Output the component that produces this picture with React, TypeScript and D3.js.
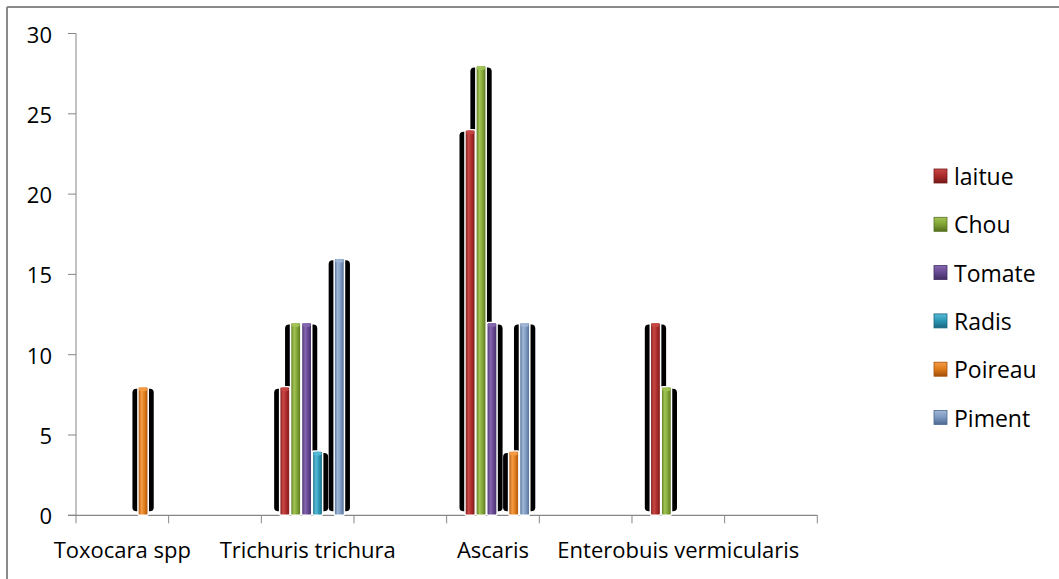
import React from "react";
import * as d3 from "d3";

// Parasite categories (every other slot is an unlabeled spacer on the axis)
const categories = [
  "Toxocara spp",
  "",
  "Trichuris trichura",
  "",
  "Ascaris",
  "",
  "Enterobuis vermicularis",
  "",
];

const seriesNames = ["laitue", "Chou", "Tomate", "Radis", "Poireau", "Piment"];

const laitue = [0, 0, 8, 0, 24, 0, 12, 0];
const chou = [0, 0, 12, 0, 28, 0, 8, 0];
const tomate = [0, 0, 12, 0, 12, 0, 0, 0];
const radis = [0, 0, 4, 0, 0, 0, 0, 0];
const poireau = [8, 0, 0, 0, 4, 0, 0, 0];
const piment = [0, 0, 16, 0, 12, 0, 0, 0];

const seriesValues = [laitue, chou, tomate, radis, poireau, piment];

const yTicks = [0, 5, 10, 15, 20, 25, 30];

// dark edge, highlight, mid tone
const palette = [
  ["#741a19", "#c94845", "#a92b29"],
  ["#55701d", "#a2c555", "#80a336"],
  ["#412d64", "#8667b0", "#654890"],
  ["#186680", "#58bcd8", "#2a95b3"],
  ["#a2500c", "#f59c46", "#de7a1a"],
  ["#4c6890", "#a0b8d8", "#7b98bf"],
];

const W = 1059;
const H = 579;
const plotLeft = 76;
const plotRight = 817.3;
const plotTop = 33.5;
const plotBottom = 515.3;
const FONT = "'Open Sans', sans-serif";
const axisColor = "#868686";

export default function App() {
  const x = d3.scaleBand<string>().domain(categories.map((_, i) => String(i))).range([plotLeft, plotRight]).padding(0);
  const y = d3.scaleLinear().domain([0, 30]).range([plotBottom, plotTop]);
  const catW = x.bandwidth();
  const groupW = 65.4;
  const inner = d3.scaleBand<string>().domain(seriesNames).range([0, groupW]).padding(0);
  const barW = inner.bandwidth() - 0.6;
  const groupOffset = (catW - groupW) / 2 + 4.7;

  type Bar = { s: number; c: number; x: number; top: number; v: number };
  const bars: Bar[] = [];
  seriesValues.forEach((vals, s) => {
    vals.forEach((v, c) => {
      if (v > 0) {
        const bx = (x(String(c)) as number) + groupOffset + (inner(seriesNames[s]) as number);
        bars.push({ s, c, x: bx, top: y(v), v });
      }
    });
  });

  const boundaries = d3.range(categories.length + 1).map((i) => plotLeft + i * catW);

  return (
    <svg
      width={W}
      height={H}
      style={{ position: "absolute", left: 0, top: 0, background: "#fff" }}
      fontFamily={FONT}
    >
      <defs>
        {palette.map((p, i) => (
          <linearGradient key={i} id={`cyl${i}`} x1="0" x2="1" y1="0" y2="0">
            <stop offset="0" stopColor={p[0]} />
            <stop offset="0.35" stopColor={p[1]} />
            <stop offset="0.65" stopColor={p[2]} />
            <stop offset="1" stopColor={p[0]} />
          </linearGradient>
        ))}
        {palette.map((p, i) => (
          <linearGradient key={`l${i}`} id={`leg${i}`} x1="0" x2="0" y1="0" y2="1">
            <stop offset="0" stopColor={p[1]} />
            <stop offset="0.5" stopColor={p[2]} />
            <stop offset="1" stopColor={p[0]} />
          </linearGradient>
        ))}
      </defs>

      <rect x={0} y={0} width={W} height={H} fill="#fff" />
      {/* chart frame */}
      <line x1={7} y1={7} x2={W} y2={7} stroke="#8a8a8a" strokeWidth={2} />
      <line x1={7} y1={7} x2={7} y2={H} stroke="#8a8a8a" strokeWidth={2} />

      {/* y axis */}
      <line x1={plotLeft} y1={plotTop} x2={plotLeft} y2={plotBottom} stroke={axisColor} strokeWidth={1} />
      {yTicks.map((t) => (
        <g key={t}>
          <line x1={plotLeft - 8} x2={plotLeft} y1={y(t)} y2={y(t)} stroke={axisColor} />
          <text x={52} y={y(t)} textAnchor="end" dominantBaseline="central" fontSize={22} fill="#000">
            {t}
          </text>
        </g>
      ))}

      {/* x axis */}
      <line x1={plotLeft - 8} x2={plotRight} y1={plotBottom} y2={plotBottom} stroke={axisColor} strokeWidth={1.2} />
      {boundaries.map((bx, i) => (
        <line key={i} x1={bx} x2={bx} y1={plotBottom} y2={plotBottom + 8} stroke={axisColor} />
      ))}
      {categories.map((c, i) =>
        c ? (
          <text
            key={i}
            x={(x(String(i)) as number) + catW / 2}
            y={558}
            textAnchor="middle"
            fontSize={22}
            fill="#000"
          >
            {c}
          </text>
        ) : null
      )}

      {/* black shadows behind the cylinders */}
      {bars.map((b, i) => (
        <rect
          key={`sh${i}`}
          x={b.x - 5.5}
          y={b.top + 2}
          width={barW + 11}
          height={Math.max(0, plotBottom - 4 - (b.top + 2))}
          rx={4}
          fill="#000"
        />
      ))}

      {/* cylinders */}
      {bars.map((b, i) => (
        <g key={`b${i}`}>
          <rect
            x={b.x}
            y={b.top}
            width={barW}
            height={plotBottom - b.top}
            fill={`url(#cyl${b.s})`}
            stroke="#fff"
            strokeWidth={1.5}
            rx={1.5}
          />
          <ellipse cx={b.x + barW / 2} cy={b.top + 2.5} rx={barW / 2 - 1} ry={2} fill={palette[b.s][1]} opacity={0.9} />
        </g>
      ))}

      {/* legend */}
      {seriesNames.map((n, i) => {
        const cy = 176 + i * 48.3;
        return (
          <g key={n}>
            <rect x={934} y={cy - 7} width={13} height={14} fill={`url(#leg${i})`} stroke={palette[i][0]} strokeWidth={0.8} />
            <text x={954} y={cy} dominantBaseline="central" fontSize={23} fill="#000">
              {n}
            </text>
          </g>
        );
      })}
    </svg>
  );
}
